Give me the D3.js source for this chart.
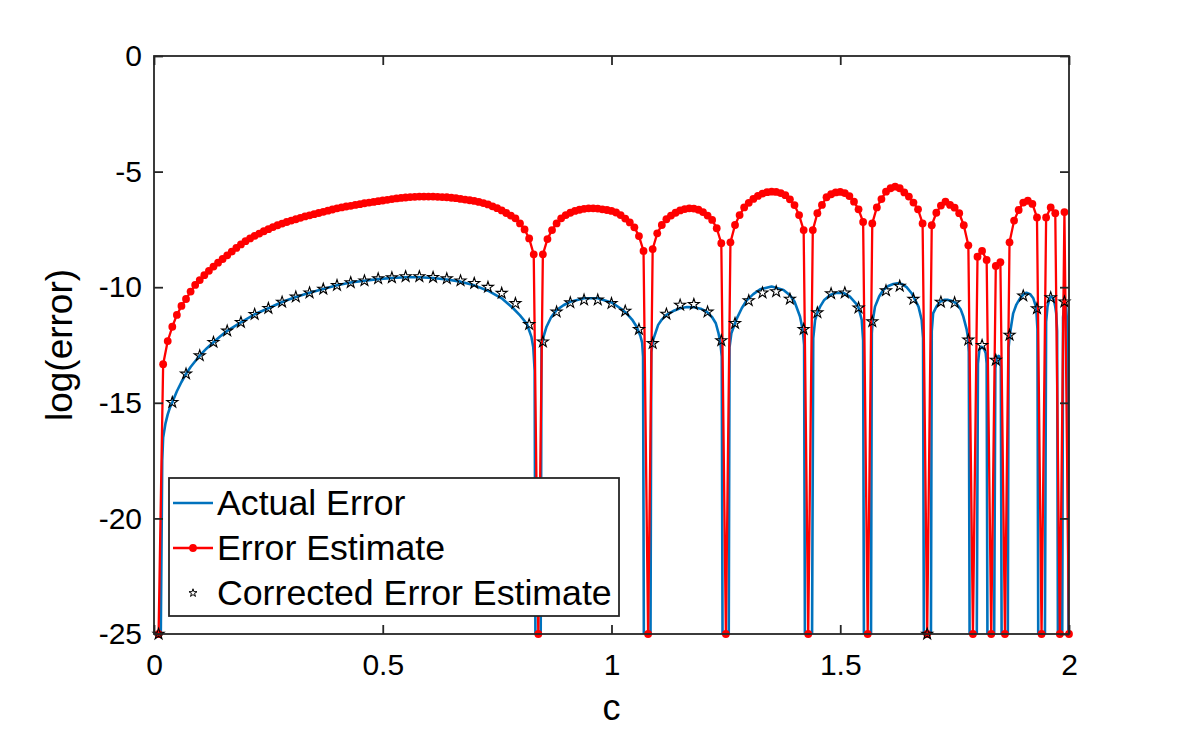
<!DOCTYPE html>
<html>
<head>
<meta charset="utf-8">
<script src="https://cdn.jsdelivr.net/npm/d3@7"></script>
<style>
html,body{margin:0;padding:0;background:#fff;}
svg{display:block;}
text{font-family:"Liberation Sans",Arial,Helvetica,sans-serif;fill:#000;}
</style>
</head>
<body>
<svg id="chart" width="1181" height="750"></svg>
<script>
// ---------------- data ----------------
const xTicks = [0, 0.5, 1, 1.5, 2];
const xTickLabels = ["0", "0.5", "1", "1.5", "2"];
const yTicks = [0, -5, -10, -15, -20, -25];
const yTickLabels = ["0", "-5", "-10", "-15", "-20", "-25"];
const seriesNames = ["Actual Error", "Error Estimate", "Corrected Error Estimate"];

// Error Estimate: c = 0.01, 0.02, ..., 2.00
const estStart = 0.01, estStep = 0.01;
const estValues = [
 -25,
 -13.33,-12.33,-11.71,-11.20,-10.81,-10.51,-10.19,-9.90,-9.69,-9.48,
 -9.29,-9.11,-8.94,-8.78,-8.62,-8.46,-8.30,-8.15,-8.01,-7.89,
 -7.78,-7.68,-7.58,-7.49,-7.40,-7.32,-7.25,-7.18,-7.12,-7.06,
 -7.00,-6.94,-6.89,-6.84,-6.79,-6.74,-6.69,-6.64,-6.59,-6.55,
 -6.51,-6.48,-6.44,-6.41,-6.37,-6.34,-6.31,-6.28,-6.25,-6.22,
 -6.19,-6.16,-6.14,-6.12,-6.10,-6.09,-6.08,-6.08,-6.08,-6.08,
 -6.09,-6.10,-6.11,-6.13,-6.15,-6.18,-6.21,-6.24,-6.27,-6.31,
 -6.36,-6.42,-6.50,-6.58,-6.68,-6.79,-6.90,-7.02,-7.24,-7.50,
 -7.89,-8.58,
 -25,
 -8.58,-7.92,-7.53,-7.24,-7.02,-6.88,-6.78,-6.70,-6.65,-6.61,
 -6.59,-6.59,-6.60,-6.63,-6.66,-6.70,-6.77,-6.88,-7.03,-7.20,
 -7.41,-7.79,-8.43,
 -25,
 -8.35,-7.67,-7.31,-7.06,-6.90,-6.78,-6.68,-6.62,-6.59,-6.60,
 -6.65,-6.75,-6.90,-7.09,-7.45,-8.10,
 -25,
 -8.06,-7.31,-6.88,-6.55,-6.35,-6.18,-6.05,-5.95,-5.89,-5.87,
 -5.88,-5.93,-6.02,-6.20,-6.45,-6.88,-7.53,
 -25,
 -7.53,-6.80,-6.44,-6.11,-5.98,-5.90,-5.88,-5.93,-6.06,-6.30,
 -6.63,-7.18,
 -25,
 -7.24,-6.55,-6.19,-5.87,-5.72,-5.65,-5.72,-5.90,-6.08,-6.34,
 -6.63,-7.24,
 -25,
 -7.32,-6.78,-6.47,-6.30,-6.44,-6.56,-6.80,-7.32,-8.19,
 -25,
 -8.68,-8.43,-8.82,
 -25,
 -9.08,-8.92,
 -25,
 -8.06,-7.12,-6.66,-6.34,-6.26,-6.40,-6.98,
 -25,
 -6.98,-6.55,-6.80,
 -25,
 -6.75,
 -25
];

// Corrected Error Estimate: c = 0.01, 0.04, ..., 1.99
const corrStart = 0.01, corrStep = 0.03;
const corrValues = [
 -25,-14.98,-13.75,-12.96,-12.38,-11.89,-11.52,-11.17,-10.91,-10.64,
 -10.42,-10.24,-10.08,-9.92,-9.80,-9.72,-9.63,-9.59,-9.54,-9.54,
 -9.57,-9.63,-9.72,-9.83,-10.00,-10.26,-10.70,-11.61,-12.36,-11.07,
 -10.67,-10.55,-10.55,-10.70,-11.03,-11.82,-12.43,-11.16,-10.77,-10.74,
 -11.07,-12.31,-11.56,-10.58,-10.24,-10.19,-10.51,-11.82,-11.10,-10.28,
 -10.24,-10.89,-11.49,-10.15,-9.95,-10.52,-25,-10.64,-10.67,-12.28,
 -12.51,-13.15,-12.07,-10.37,-10.93,-10.45,-10.63
];

// Actual Error (continuous curve)
const actualC = [
 0.014,0.018,0.02,0.025,0.03,0.035,0.04,0.05,0.06,0.07,0.08,0.09,0.10,0.115,0.13,0.145,0.16,0.19,0.22,0.25,
 0.28,0.31,0.34,0.37,0.40,0.43,0.46,0.49,0.52,0.55,0.58,0.61,0.64,0.67,0.70,0.73,0.76,0.785,0.80,0.815,
 0.825,0.829,0.832,0.834,
 0.845,0.847,0.852,0.858,0.868,0.88,0.895,0.91,0.94,0.97,1.00,1.02,1.033,1.045,1.055,1.063,1.067,1.069,1.071,
 1.085,1.087,1.091,1.102,1.11,1.12,1.135,1.15,1.165,1.18,1.195,1.208,1.22,1.228,1.234,1.238,1.241,1.243,
 1.256,1.258,1.262,1.274,1.285,1.295,1.31,1.325,1.35,1.376,1.39,1.40,1.412,1.418,1.421,1.423,
 1.438,1.441,1.445,1.45,1.456,1.465,1.478,1.49,1.506,1.521,1.535,1.54,1.547,1.550,1.552,
 1.567,1.569,1.571,1.576,1.585,1.594,1.605,1.616,1.625,1.634,1.645,1.656,1.665,1.671,1.678,1.681,1.683,
 1.698,1.700,1.703,1.71,1.718,1.727,1.736,1.745,1.754,1.763,1.769,1.776,1.779,1.781,1.783,
 1.798,1.801,1.804,1.808,1.811,1.815,1.818,1.820,1.822,
 1.836,1.839,1.842,1.846,1.849,1.851,1.853,
 1.866,1.868,1.871,1.875,1.878,1.885,1.893,1.90,1.907,1.915,1.922,1.927,1.929,1.931,1.933,
 1.947,1.95,1.953,1.957,1.96,1.964,1.967,1.970,1.972,1.974,1.976,
 1.985,1.987,1.99,1.994,1.997,1.999
];
const actualV = [
 -27,-17.5,-16.5,-15.9,-15.5,-15.2,-14.98,-14.5,-14.1,-13.75,-13.45,-13.2,-12.96,-12.65,-12.38,-12.12,-11.89,-11.52,-11.17,-10.91,
 -10.64,-10.42,-10.24,-10.08,-9.92,-9.80,-9.72,-9.65,-9.60,-9.57,-9.57,-9.60,-9.67,-9.76,-9.92,-10.15,-10.48,-10.91,-11.22,-11.58,
 -12.15,-12.6,-13.6,-27,
 -27,-12.57,-12.1,-11.71,-11.3,-10.99,-10.78,-10.63,-10.48,-10.48,-10.66,-10.92,-11.13,-11.4,-11.71,-12.1,-12.4,-13,-27,
 -27,-12.8,-12.28,-11.63,-11.4,-11.2,-11.03,-10.91,-10.86,-10.87,-10.93,-11.06,-11.3,-11.56,-12.0,-12.4,-13.0,-27,
 -27,-12.6,-11.99,-11.35,-10.9,-10.58,-10.3,-10.09,-9.97,-10.12,-10.35,-10.62,-11.27,-11.85,-12.5,-27,
 -27,-12.2,-11.42,-11.1,-10.84,-10.55,-10.34,-10.25,-10.24,-10.41,-10.72,-10.89,-11.42,-12.3,-27,
 -27,-12.0,-11.45,-10.84,-10.4,-10.12,-9.95,-9.86,-9.83,-9.86,-10.0,-10.26,-10.6,-10.84,-11.42,-12.2,-27,
 -27,-11.9,-11.13,-10.85,-10.63,-10.55,-10.55,-10.6,-10.7,-10.95,-11.27,-11.8,-12.14,-12.8,-27,
 -27,-13.3,-12.72,-12.58,-12.6,-12.7,-12.86,-13.3,-27,
 -27,-13.5,-13.08,-12.97,-13.0,-13.4,-27,
 -27,-12.6,-12.0,-11.5,-11.13,-10.75,-10.48,-10.32,-10.24,-10.3,-10.48,-10.8,-11.13,-11.8,-27,
 -27,-11.5,-10.84,-10.5,-10.41,-10.45,-10.55,-10.85,-11.13,-11.9,-27,
 -27,-11.3,-10.63,-10.9,-12,-27
];

// ---------------- drawing ----------------
const svg = d3.select("#chart");
const L = 154, R = 1069, T = 56, B = 634;
const axisColor = "#262626";
const blue = "#0072BD", red = "#FF0000";

const x = d3.scaleLinear().domain([0, 2]).range([L, R]);
const y = d3.scaleLinear().domain([-25, 0]).range([B, T]);

const estData = estValues.map((v, i) => ({c: +(estStart + i * estStep).toFixed(4), v}));
const corrData = corrValues.map((v, i) => ({c: +(corrStart + i * corrStep).toFixed(4), v}));
const actData = actualC.map((c, i) => ({c, v: actualV[i]}));

svg.append("rect").attr("x", L).attr("y", T).attr("width", R - L).attr("height", B - T).attr("fill", "#fff");

svg.append("clipPath").attr("id", "clip").append("rect")
  .attr("x", L).attr("y", T).attr("width", R - L).attr("height", B - T);

const line = d3.line().x(d => x(d.c)).y(d => y(d.v));

// Actual error
svg.append("path").datum(actData)
  .attr("clip-path", "url(#clip)")
  .attr("d", line).attr("fill", "none")
  .attr("stroke", blue).attr("stroke-width", 2.6).attr("stroke-linejoin", "round");

// Error estimate
svg.append("path").datum(estData)
  .attr("clip-path", "url(#clip)")
  .attr("d", line).attr("fill", "none")
  .attr("stroke", red).attr("stroke-width", 2.3).attr("stroke-linejoin", "round");
svg.append("g").selectAll("circle").data(estData).join("circle")
  .attr("cx", d => x(d.c)).attr("cy", d => y(d.v)).attr("r", 3.9)
  .attr("fill", red);

// Corrected estimate
const star = d3.symbol().type(d3.symbolStar).size(38);
svg.append("g").selectAll("path").data(corrData).join("path")
  .attr("transform", d => `translate(${x(d.c)},${y(d.v)})`)
  .attr("d", star).attr("fill", "none").attr("stroke", "#000").attr("stroke-width", 1.1);

// axes box & ticks
const ax = svg.append("g");
const xAxB = d3.axisBottom(x).tickValues(xTicks).tickSize(-9).tickFormat((d, i) => xTickLabels[i]).tickPadding(20);
const xAxT = d3.axisTop(x).tickValues(xTicks).tickSize(-9).tickFormat("");
const yAxL = d3.axisLeft(y).tickValues(yTicks).tickSize(-9).tickFormat((d, i) => yTickLabels[i]).tickPadding(12);
const yAxR = d3.axisRight(y).tickValues(yTicks).tickSize(-9).tickFormat("");

function style(g) {
  g.select(".domain").attr("stroke", axisColor).attr("stroke-width", 1.8);
  g.selectAll(".tick line").attr("stroke", axisColor).attr("stroke-width", 1.8);
  g.selectAll(".tick text").attr("fill", "#262626")
    .style("font-family", '"Liberation Sans",Arial,Helvetica,sans-serif').style("font-size", "30px");
}
ax.append("g").attr("transform", `translate(0,${B})`).call(xAxB).call(style);
ax.append("g").attr("transform", `translate(0,${T})`).call(xAxT).call(style);
ax.append("g").attr("transform", `translate(${L},0)`).call(yAxL).call(style);
ax.append("g").attr("transform", `translate(${R},0)`).call(yAxR).call(style);
ax.selectAll(".domain").attr("d", null);
svg.append("rect").attr("x", L).attr("y", T).attr("width", R - L).attr("height", B - T)
  .attr("fill", "none").attr("stroke", axisColor).attr("stroke-width", 1.8);

// axis labels
svg.append("text").attr("x", (L + R) / 2).attr("y", 720).attr("text-anchor", "middle")
  .style("font-size", "36px").attr("fill", "#262626").text("c");
svg.append("text").attr("transform", `translate(72,${(T + B) / 2}) rotate(-90)`)
  .attr("text-anchor", "middle").style("font-size", "37px").attr("fill", "#262626").text("log(error)");

// legend
const lg = svg.append("g");
lg.append("rect").attr("x", 169).attr("y", 478).attr("width", 450).attr("height", 138)
  .attr("fill", "#fff").attr("stroke", axisColor).attr("stroke-width", 1.8);
const rows = [503, 548, 593];
lg.append("line").attr("x1", 173).attr("x2", 213).attr("y1", rows[0]).attr("y2", rows[0])
  .attr("stroke", blue).attr("stroke-width", 2.6);
lg.append("line").attr("x1", 173).attr("x2", 213).attr("y1", rows[1]).attr("y2", rows[1])
  .attr("stroke", red).attr("stroke-width", 2.3);
lg.append("circle").attr("cx", 193).attr("cy", rows[1]).attr("r", 3.9).attr("fill", red);
lg.append("path").attr("transform", `translate(193,${rows[2]})`)
  .attr("d", d3.symbol().type(d3.symbolStar).size(20)).attr("fill", "none").attr("stroke", "#000").attr("stroke-width", 1);
seriesNames.forEach((n, i) => {
  lg.append("text").attr("x", 217).attr("y", rows[i] + 12).style("font-size", "35.7px").text(n);
});
</script>
</body>
</html>
